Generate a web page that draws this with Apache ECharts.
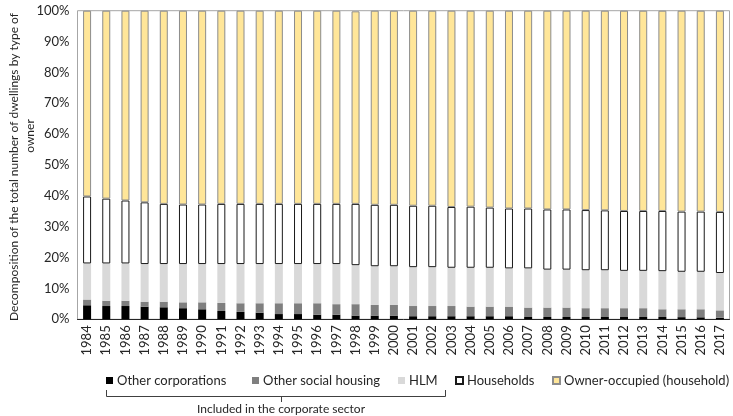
<!DOCTYPE html>
<html>
<head>
<meta charset="utf-8">
<script src="https://cdn.jsdelivr.net/npm/echarts@6/dist/echarts.min.js"></script>
<style>
  html, body { margin: 0; padding: 0; background: #fff; }
  #chart { width: 733px; height: 416px; }
</style>
</head>
<body>
<div id="chart"></div>
<script>
// Dwelling stock by type of owner, share of total (%)
const years = ['1984','1985','1986','1987','1988','1989','1990','1991','1992','1993',
  '1994','1995','1996','1997','1998','1999','2000','2001','2002','2003','2004','2005',
  '2006','2007','2008','2009','2010','2011','2012','2013','2014','2015','2016','2017'];

const otherCorporations = [4.55,4.3,4.3,4.1,3.9,3.6,3.25,2.7,2.4,2.15,1.7,1.7,1.5,1.5,1.2,1.2,1.2,
  1.0,1.0,1.0,1.0,1.0,1.0,0.75,0.75,0.75,0.75,0.75,0.75,0.75,0.75,0.7,0.65,0.5];

const otherSocialHousing = [1.85,1.7,1.7,1.6,1.8,1.9,2.25,2.6,2.8,3.05,3.5,3.5,3.7,3.4,3.7,3.45,3.45,
  3.3,3.3,3.3,3.1,3.1,3.1,3.05,3.05,3.05,2.85,2.85,2.85,2.85,2.5,2.55,2.6,2.4];

const hlm = [11.7,12.1,12.1,12.2,12.2,12.4,12.4,12.6,12.7,12.7,12.7,12.7,12.7,13.0,12.65,12.55,12.55,
  12.6,12.6,12.4,12.6,12.6,12.4,12.7,12.3,12.3,12.3,12.3,12.1,12.1,12.35,12.15,12.15,12.1];

const households = [21.7,21.0,20.4,20.0,19.5,19.3,19.3,19.5,19.5,19.5,19.5,19.5,19.5,19.5,19.85,19.9,19.9,
  19.9,19.9,19.7,19.8,19.5,19.4,19.4,19.5,19.5,19.5,19.4,19.4,19.4,19.5,19.5,19.5,19.8];

const ownerOccupied = [60.2,60.9,61.5,62.1,62.6,62.8,62.8,62.6,62.6,62.6,62.6,62.6,62.6,62.6,62.4,62.9,62.9,
  63.2,63.2,63.6,63.5,63.8,64.1,64.1,64.4,64.4,64.6,64.7,64.9,64.9,64.9,65.1,65.1,65.2];

const yTicks = { min: 0, max: 100, interval: 10 };

const FONT = 'Lato';
const TEXT = '#262626';

const seriesDefs = [
  { name: 'Other corporations', data: otherCorporations, color: '#000000' },
  { name: 'Other social housing', data: otherSocialHousing, color: '#7f7f7f' },
  { name: 'HLM', data: hlm, color: '#d9d9d9' },
  { name: 'Households', data: households, color: '#ffffff', border: '#1a1a1a', bw: 1 },
  { name: 'Owner-occupied (household)', data: ownerOccupied, color: '#ffe699', border: '#8c8c8c', bw: 1 }
];

// left edge of each legend entry
const legendLefts = [106, 252, 398, 455, 552];

const chart = echarts.init(document.getElementById('chart'), null, { renderer: 'canvas' });

const option = {
  animation: false,
  backgroundColor: '#ffffff',
  textStyle: { fontFamily: FONT },
  grid: {
    left: 77.5, right: 3.5, top: 10.7, bottom: 96.7,
    show: true, borderColor: '#a6a6a6', borderWidth: 1, backgroundColor: 'transparent'
  },
  legend: seriesDefs.map((s, i) => ({
    data: [s.name],
    left: legendLefts[i],
    top: 374,
    icon: 'rect',
    itemWidth: 7,
    itemHeight: 7,
    itemGap: 4,
    padding: 0,
    textStyle: { fontFamily: FONT, fontSize: 13, color: TEXT, padding: [0, 0, 0, -1] }
  })),
  xAxis: {
    type: 'category',
    data: years,
    axisLine: { show: true, lineStyle: { color: '#262626', width: 1 } },
    axisTick: { show: false },
    axisLabel: {
      rotate: 90, interval: 0, margin: 6,
      fontFamily: FONT, fontSize: 13, color: TEXT
    }
  },
  yAxis: {
    type: 'value',
    min: yTicks.min, max: yTicks.max, interval: yTicks.interval,
    axisLine: { show: false },
    axisTick: { show: false },
    splitLine: { show: false },
    axisLabel: {
      formatter: '{value}%', margin: 8,
      fontFamily: FONT, fontSize: 13, color: TEXT
    }
  },
  series: seriesDefs.map(s => ({
    name: s.name,
    type: 'bar',
    stack: 'total',
    barWidth: 8,
    data: s.data,
    itemStyle: {
      color: s.color,
      borderColor: s.border || s.color,
      borderWidth: s.bw || 0
    }
  })),
  graphic: [
    // axis title, two lines
    {
      type: 'text', x: 14, y: 167, rotation: Math.PI / 2,
      style: {
        text: 'Decomposition of the total number of dwellings by type of',
        fontFamily: FONT, fontSize: 12, fill: TEXT,
        textAlign: 'center', textVerticalAlign: 'middle'
      }
    },
    {
      type: 'text', x: 30, y: 136, rotation: Math.PI / 2,
      style: {
        text: 'owner',
        fontFamily: FONT, fontSize: 12, fill: TEXT,
        textAlign: 'center', textVerticalAlign: 'middle'
      }
    },
    // brace under the first three legend entries
    {
      type: 'polyline',
      shape: { points: [[106.5, 390], [106.5, 396.5], [445.5, 396.5], [445.5, 390]] },
      style: { stroke: '#404040', lineWidth: 1, fill: null }
    },
    {
      type: 'line',
      shape: { x1: 281.5, y1: 396.5, x2: 281.5, y2: 402 },
      style: { stroke: '#404040', lineWidth: 1 }
    },
    {
      type: 'text', x: 281, y: 409,
      style: {
        text: 'Included in the corporate sector',
        fontFamily: FONT, fontSize: 12, fill: TEXT,
        textAlign: 'center', textVerticalAlign: 'middle'
      }
    }
  ]
};

chart.setOption(option);
</script>
</body>
</html>
